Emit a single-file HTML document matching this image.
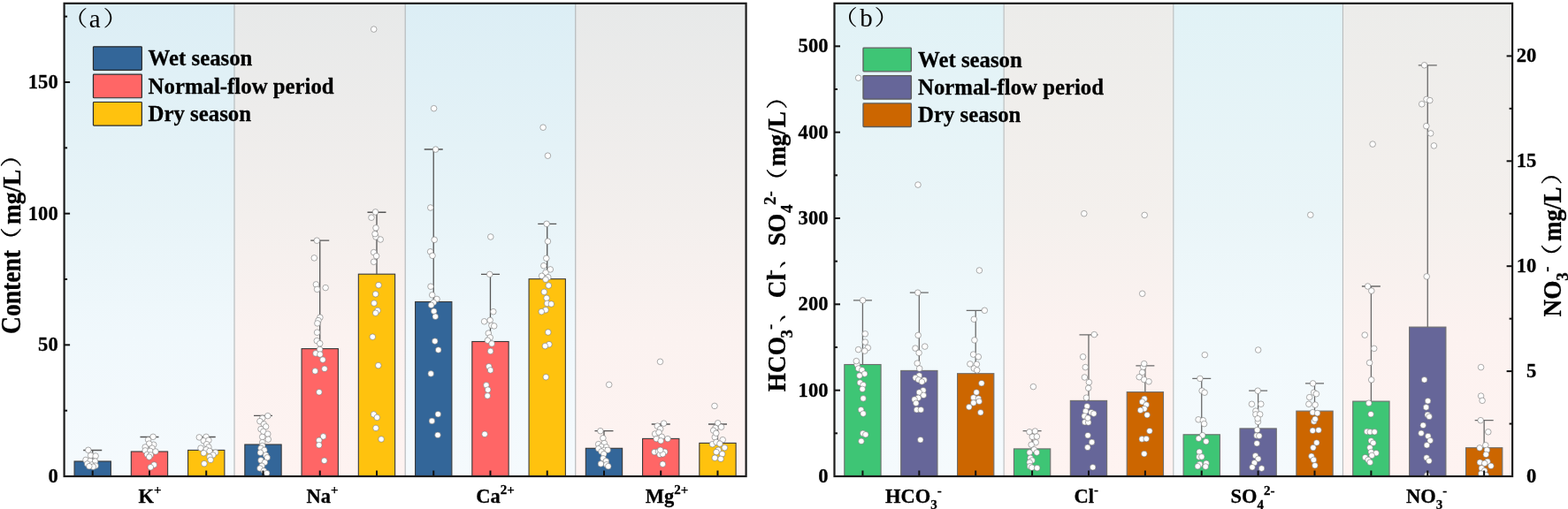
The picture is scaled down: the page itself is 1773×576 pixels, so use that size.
<!DOCTYPE html>
<html lang="en"><head><meta charset="utf-8"><title>Ion content by season</title>
<style>
html,body{margin:0;padding:0;background:#fff;}
body{width:1773px;height:576px;overflow:hidden;}
svg{display:block;}
text{font-family:"Liberation Serif","Noto Serif CJK SC",serif;fill:#000;}
.b{font-weight:bold;stroke:#000;stroke-width:0.28;stroke-linejoin:round;}
.cjk{font-family:"Liberation Serif","Noto Serif CJK SC",serif;font-weight:normal;}
.cjkb{font-family:"Liberation Serif","Noto Serif CJK SC",serif;font-weight:bold;}
.pt{fill:#fff;stroke:#747474;stroke-width:0.6;}
.eb{stroke-width:1.3;fill:none;}
.bar{stroke-width:1.1;}
.ax{stroke:#1c1c1c;stroke-width:2.2;fill:none;}
.tk{stroke:#111;stroke-width:2;fill:none;}
.xtk{stroke:#111;stroke-width:2;fill:none;}
.lg{stroke:#2a2a2a;stroke-width:1;}
.sep{stroke-width:1.1;}
</style></head><body>
<svg width="1773" height="576" viewBox="0 0 1773 576">
<defs>
<linearGradient id="gba" x1="0" y1="0" x2="0" y2="1"><stop offset="0" stop-color="rgb(220,238,245)"/><stop offset="0.45" stop-color="rgb(232,244,248)"/><stop offset="0.7" stop-color="rgb(240,248,252)"/><stop offset="1" stop-color="rgb(245,250,253)"/></linearGradient>
<linearGradient id="gga" x1="0" y1="0" x2="0" y2="1"><stop offset="0" stop-color="rgb(231,233,233)"/><stop offset="0.45" stop-color="rgb(243,239,237)"/><stop offset="0.7" stop-color="rgb(251,242,240)"/><stop offset="1" stop-color="rgb(254,243,241)"/></linearGradient>
<linearGradient id="gbb" x1="0" y1="0" x2="0" y2="1"><stop offset="0" stop-color="rgb(225,242,246)"/><stop offset="0.45" stop-color="rgb(234,245,248)"/><stop offset="0.7" stop-color="rgb(241,249,252)"/><stop offset="1" stop-color="rgb(245,250,253)"/></linearGradient>
<linearGradient id="ggb" x1="0" y1="0" x2="0" y2="1"><stop offset="0" stop-color="rgb(236,236,234)"/><stop offset="0.45" stop-color="rgb(244,240,237)"/><stop offset="0.7" stop-color="rgb(252,242,240)"/><stop offset="1" stop-color="rgb(254,243,241)"/></linearGradient>
<clipPath id="ca"><rect x="72.6" y="3.8" width="771.0" height="535.5"/></clipPath>
<clipPath id="cb"><rect x="943.5" y="3.8" width="766.5999999999999" height="535.5"/></clipPath>
</defs>
<rect x="0" y="0" width="1773" height="576" fill="#fff"/>
<rect x="72.60" y="3.8" width="192.75" height="535.20" fill="url(#gba)"/>
<rect x="265.35" y="3.8" width="192.75" height="535.20" fill="url(#gga)"/>
<rect x="458.10" y="3.8" width="192.75" height="535.20" fill="url(#gba)"/>
<rect x="650.85" y="3.8" width="192.75" height="535.20" fill="url(#gga)"/>
<line class="sep" x1="265.00" y1="3.8" x2="265.00" y2="539.0" stroke="#b2b6b7"/>
<line class="sep" x1="458.20" y1="3.8" x2="458.20" y2="539.0" stroke="#b2b6b7"/>
<line class="sep" x1="650.75" y1="3.8" x2="650.75" y2="539.0" stroke="#b2b6b7"/>
<rect class="bar" x="84.07" y="522.00" width="41.30" height="17.00" fill="#336699" stroke="#383838"/>
<rect class="bar" x="148.32" y="511.00" width="41.30" height="28.00" fill="#FF6666" stroke="#383838"/>
<rect class="bar" x="212.57" y="509.40" width="41.30" height="29.60" fill="#FFC20E" stroke="#383838"/>
<rect class="bar" x="276.83" y="503.00" width="41.30" height="36.00" fill="#336699" stroke="#383838"/>
<rect class="bar" x="341.08" y="394.60" width="41.30" height="144.40" fill="#FF6666" stroke="#383838"/>
<rect class="bar" x="405.33" y="310.20" width="41.30" height="228.80" fill="#FFC20E" stroke="#383838"/>
<rect class="bar" x="469.58" y="341.50" width="41.30" height="197.50" fill="#336699" stroke="#383838"/>
<rect class="bar" x="533.83" y="386.50" width="41.30" height="152.50" fill="#FF6666" stroke="#383838"/>
<rect class="bar" x="598.08" y="315.70" width="41.30" height="223.30" fill="#FFC20E" stroke="#383838"/>
<rect class="bar" x="662.33" y="507.30" width="41.30" height="31.70" fill="#336699" stroke="#383838"/>
<rect class="bar" x="726.58" y="496.40" width="41.30" height="42.60" fill="#FF6666" stroke="#383838"/>
<rect class="bar" x="790.83" y="501.40" width="41.30" height="37.60" fill="#FFC20E" stroke="#383838"/>
<path class="eb" d="M104.72 522.00V509.50M94.22 509.50H115.22" stroke="#555"/>
<path class="eb" d="M168.97 511.00V494.50M158.47 494.50H179.47" stroke="#555"/>
<path class="eb" d="M233.22 509.40V494.50M222.72 494.50H243.72" stroke="#555"/>
<path class="eb" d="M297.48 503.00V470.40M286.98 470.40H307.98" stroke="#555"/>
<path class="eb" d="M361.73 394.60V272.10M351.23 272.10H372.23" stroke="#555"/>
<path class="eb" d="M425.98 310.20V240.25M415.48 240.25H436.48" stroke="#555"/>
<path class="eb" d="M490.23 341.50V169.00M479.73 169.00H500.73" stroke="#555"/>
<path class="eb" d="M554.48 386.50V310.40M543.98 310.40H564.98" stroke="#555"/>
<path class="eb" d="M618.73 315.70V253.30M608.23 253.30H629.23" stroke="#555"/>
<path class="eb" d="M682.98 507.30V487.60M672.48 487.60H693.48" stroke="#555"/>
<path class="eb" d="M747.23 496.40V480.00M736.73 480.00H757.73" stroke="#555"/>
<path class="eb" d="M811.48 501.40V480.00M800.98 480.00H821.98" stroke="#555"/>
<g clip-path="url(#ca)">
<circle class="pt" cx="99.8" cy="509.3" r="3.3"/>
<circle class="pt" cx="102.6" cy="515.4" r="3.3"/>
<circle class="pt" cx="108.1" cy="516.0" r="3.3"/>
<circle class="pt" cx="97.0" cy="520.4" r="3.3"/>
<circle class="pt" cx="102.0" cy="521.6" r="3.3"/>
<circle class="pt" cx="107.6" cy="522.1" r="3.3"/>
<circle class="pt" cx="98.7" cy="524.9" r="3.3"/>
<circle class="pt" cx="103.7" cy="526.0" r="3.3"/>
<circle class="pt" cx="108.1" cy="527.1" r="3.3"/>
<circle class="pt" cx="105.3" cy="528.2" r="3.3"/>
<circle class="pt" cx="100.9" cy="527.7" r="3.3"/>
<circle class="pt" cx="173.1" cy="494.3" r="3.3"/>
<circle class="pt" cx="167.6" cy="497.7" r="3.3"/>
<circle class="pt" cx="173.7" cy="503.2" r="3.3"/>
<circle class="pt" cx="168.7" cy="502.1" r="3.3"/>
<circle class="pt" cx="164.2" cy="506.0" r="3.3"/>
<circle class="pt" cx="172.0" cy="507.1" r="3.3"/>
<circle class="pt" cx="164.2" cy="509.9" r="3.3"/>
<circle class="pt" cx="169.8" cy="510.4" r="3.3"/>
<circle class="pt" cx="175.9" cy="511.0" r="3.3"/>
<circle class="pt" cx="166.4" cy="514.3" r="3.3"/>
<circle class="pt" cx="170.3" cy="514.9" r="3.3"/>
<circle class="pt" cx="168.7" cy="517.1" r="3.3"/>
<circle class="pt" cx="174.2" cy="526.0" r="3.3"/>
<circle class="pt" cx="170.3" cy="528.8" r="3.3"/>
<circle class="pt" cx="225.3" cy="494.9" r="3.3"/>
<circle class="pt" cx="233.1" cy="494.3" r="3.3"/>
<circle class="pt" cx="230.3" cy="498.8" r="3.3"/>
<circle class="pt" cx="235.9" cy="498.2" r="3.3"/>
<circle class="pt" cx="233.7" cy="502.7" r="3.3"/>
<circle class="pt" cx="227.0" cy="507.1" r="3.3"/>
<circle class="pt" cx="235.9" cy="506.0" r="3.3"/>
<circle class="pt" cx="233.1" cy="508.8" r="3.3"/>
<circle class="pt" cx="237.0" cy="510.4" r="3.3"/>
<circle class="pt" cx="230.3" cy="512.7" r="3.3"/>
<circle class="pt" cx="243.7" cy="512.1" r="3.3"/>
<circle class="pt" cx="240.9" cy="514.9" r="3.3"/>
<circle class="pt" cx="237.0" cy="517.1" r="3.3"/>
<circle class="pt" cx="238.1" cy="520.4" r="3.3"/>
<circle class="pt" cx="230.9" cy="524.7" r="3.3"/>
<circle class="pt" cx="302.8" cy="470.6" r="3.3"/>
<circle class="pt" cx="296.7" cy="473.3" r="3.3"/>
<circle class="pt" cx="293.9" cy="476.7" r="3.3"/>
<circle class="pt" cx="298.3" cy="480.0" r="3.3"/>
<circle class="pt" cx="300.6" cy="482.8" r="3.3"/>
<circle class="pt" cx="295.0" cy="485.6" r="3.3"/>
<circle class="pt" cx="297.8" cy="488.3" r="3.3"/>
<circle class="pt" cx="302.8" cy="491.1" r="3.3"/>
<circle class="pt" cx="296.7" cy="494.4" r="3.3"/>
<circle class="pt" cx="303.3" cy="497.2" r="3.3"/>
<circle class="pt" cx="296.7" cy="500.6" r="3.3"/>
<circle class="pt" cx="296.7" cy="504.4" r="3.3"/>
<circle class="pt" cx="295.0" cy="507.2" r="3.3"/>
<circle class="pt" cx="298.9" cy="509.4" r="3.3"/>
<circle class="pt" cx="294.4" cy="512.2" r="3.3"/>
<circle class="pt" cx="300.6" cy="515.0" r="3.3"/>
<circle class="pt" cx="302.2" cy="517.8" r="3.3"/>
<circle class="pt" cx="295.0" cy="520.9" r="3.3"/>
<circle class="pt" cx="299.4" cy="523.3" r="3.3"/>
<circle class="pt" cx="365.6" cy="493.9" r="3.3"/>
<circle class="pt" cx="360.8" cy="498.3" r="3.3"/>
<circle class="pt" cx="360.8" cy="503.7" r="3.3"/>
<circle class="pt" cx="366.7" cy="521.3" r="3.3"/>
<circle class="pt" cx="422.6" cy="468.9" r="3.3"/>
<circle class="pt" cx="426.3" cy="472.4" r="3.3"/>
<circle class="pt" cx="425.0" cy="484.4" r="3.3"/>
<circle class="pt" cx="431.1" cy="497.0" r="3.3"/>
<circle class="pt" cx="361.6" cy="395.4" r="3.3"/>
<circle class="pt" cx="357.0" cy="399.9" r="3.3"/>
<circle class="pt" cx="361.9" cy="401.0" r="3.3"/>
<circle class="pt" cx="365.0" cy="407.1" r="3.3"/>
<circle class="pt" cx="367.0" cy="417.3" r="3.3"/>
<circle class="pt" cx="356.3" cy="419.9" r="3.3"/>
<circle class="pt" cx="360.9" cy="443.8" r="3.3"/>
<circle class="pt" cx="427.8" cy="413.6" r="3.3"/>
<circle class="pt" cx="361.9" cy="359.2" r="3.3"/>
<circle class="pt" cx="360.0" cy="362.6" r="3.3"/>
<circle class="pt" cx="358.9" cy="365.9" r="3.3"/>
<circle class="pt" cx="358.6" cy="376.2" r="3.3"/>
<circle class="pt" cx="358.3" cy="385.6" r="3.3"/>
<circle class="pt" cx="361.7" cy="388.7" r="3.3"/>
<circle class="pt" cx="424.7" cy="332.8" r="3.3"/>
<circle class="pt" cx="423.0" cy="343.1" r="3.3"/>
<circle class="pt" cx="427.0" cy="351.4" r="3.3"/>
<circle class="pt" cx="424.7" cy="354.2" r="3.3"/>
<circle class="pt" cx="421.3" cy="381.2" r="3.3"/>
<circle class="pt" cx="358.3" cy="272.2" r="3.3"/>
<circle class="pt" cx="355.3" cy="291.9" r="3.3"/>
<circle class="pt" cx="357.4" cy="321.9" r="3.3"/>
<circle class="pt" cx="368.1" cy="325.6" r="3.3"/>
<circle class="pt" cx="358.6" cy="327.4" r="3.3"/>
<circle class="pt" cx="425.0" cy="268.0" r="3.3"/>
<circle class="pt" cx="430.2" cy="271.0" r="3.3"/>
<circle class="pt" cx="422.6" cy="285.6" r="3.3"/>
<circle class="pt" cx="425.6" cy="289.7" r="3.3"/>
<circle class="pt" cx="422.6" cy="296.3" r="3.3"/>
<circle class="pt" cx="428.1" cy="322.7" r="3.3"/>
<circle class="pt" cx="424.5" cy="239.9" r="3.3"/>
<circle class="pt" cx="420.0" cy="246.2" r="3.3"/>
<circle class="pt" cx="425.0" cy="257.9" r="3.3"/>
<circle class="pt" cx="424.0" cy="264.7" r="3.3"/>
<circle class="pt" cx="422.7" cy="33.1" r="3.3"/>
<circle class="pt" cx="296.1" cy="527.2" r="3.3"/>
<circle class="pt" cx="293.9" cy="530.0" r="3.3"/>
<circle class="pt" cx="298.3" cy="532.8" r="3.3"/>
<circle class="pt" cx="301.7" cy="535.6" r="3.3"/>
<circle class="pt" cx="488.4" cy="476.4" r="3.3"/>
<circle class="pt" cx="495.0" cy="492.3" r="3.3"/>
<circle class="pt" cx="548.1" cy="491.3" r="3.3"/>
<circle class="pt" cx="487.2" cy="422.9" r="3.3"/>
<circle class="pt" cx="495.3" cy="468.7" r="3.3"/>
<circle class="pt" cx="552.8" cy="414.8" r="3.3"/>
<circle class="pt" cx="554.6" cy="418.9" r="3.3"/>
<circle class="pt" cx="549.9" cy="435.9" r="3.3"/>
<circle class="pt" cx="551.7" cy="441.1" r="3.3"/>
<circle class="pt" cx="551.2" cy="447.9" r="3.3"/>
<circle class="pt" cx="617.3" cy="426.7" r="3.3"/>
<circle class="pt" cx="490.7" cy="352.2" r="3.3"/>
<circle class="pt" cx="492.3" cy="358.2" r="3.3"/>
<circle class="pt" cx="491.8" cy="386.1" r="3.3"/>
<circle class="pt" cx="495.7" cy="396.0" r="3.3"/>
<circle class="pt" cx="557.8" cy="352.7" r="3.3"/>
<circle class="pt" cx="547.6" cy="363.8" r="3.3"/>
<circle class="pt" cx="554.2" cy="362.4" r="3.3"/>
<circle class="pt" cx="555.9" cy="368.2" r="3.3"/>
<circle class="pt" cx="558.7" cy="368.9" r="3.3"/>
<circle class="pt" cx="552.3" cy="377.1" r="3.3"/>
<circle class="pt" cx="554.2" cy="381.9" r="3.3"/>
<circle class="pt" cx="551.4" cy="385.2" r="3.3"/>
<circle class="pt" cx="556.1" cy="388.9" r="3.3"/>
<circle class="pt" cx="554.6" cy="397.4" r="3.3"/>
<circle class="pt" cx="617.0" cy="350.8" r="3.3"/>
<circle class="pt" cx="612.3" cy="352.7" r="3.3"/>
<circle class="pt" cx="619.8" cy="376.0" r="3.3"/>
<circle class="pt" cx="620.9" cy="389.7" r="3.3"/>
<circle class="pt" cx="616.4" cy="391.6" r="3.3"/>
<circle class="pt" cx="486.6" cy="284.8" r="3.3"/>
<circle class="pt" cx="489.0" cy="289.3" r="3.3"/>
<circle class="pt" cx="487.0" cy="324.2" r="3.3"/>
<circle class="pt" cx="488.7" cy="333.8" r="3.3"/>
<circle class="pt" cx="494.0" cy="338.4" r="3.3"/>
<circle class="pt" cx="490.3" cy="342.3" r="3.3"/>
<circle class="pt" cx="487.6" cy="345.3" r="3.3"/>
<circle class="pt" cx="553.7" cy="310.4" r="3.3"/>
<circle class="pt" cx="617.8" cy="292.3" r="3.3"/>
<circle class="pt" cx="614.8" cy="300.7" r="3.3"/>
<circle class="pt" cx="622.3" cy="304.9" r="3.3"/>
<circle class="pt" cx="617.0" cy="308.4" r="3.3"/>
<circle class="pt" cx="612.6" cy="312.3" r="3.3"/>
<circle class="pt" cx="619.8" cy="313.8" r="3.3"/>
<circle class="pt" cx="617.0" cy="316.2" r="3.3"/>
<circle class="pt" cx="620.3" cy="323.1" r="3.3"/>
<circle class="pt" cx="615.3" cy="330.4" r="3.3"/>
<circle class="pt" cx="618.1" cy="337.3" r="3.3"/>
<circle class="pt" cx="618.7" cy="343.4" r="3.3"/>
<circle class="pt" cx="623.3" cy="344.0" r="3.3"/>
<circle class="pt" cx="486.8" cy="235.0" r="3.3"/>
<circle class="pt" cx="491.2" cy="271.3" r="3.3"/>
<circle class="pt" cx="554.8" cy="268.0" r="3.3"/>
<circle class="pt" cx="618.1" cy="253.3" r="3.3"/>
<circle class="pt" cx="619.4" cy="273.1" r="3.3"/>
<circle class="pt" cx="490.6" cy="122.7" r="3.3"/>
<circle class="pt" cx="492.6" cy="169.1" r="3.3"/>
<circle class="pt" cx="614.1" cy="144.2" r="3.3"/>
<circle class="pt" cx="619.4" cy="176.2" r="3.3"/>
<circle class="pt" cx="678.9" cy="487.7" r="3.3"/>
<circle class="pt" cx="681.9" cy="495.8" r="3.3"/>
<circle class="pt" cx="676.7" cy="502.7" r="3.3"/>
<circle class="pt" cx="683.3" cy="501.6" r="3.3"/>
<circle class="pt" cx="680.0" cy="505.4" r="3.3"/>
<circle class="pt" cx="685.6" cy="506.0" r="3.3"/>
<circle class="pt" cx="676.7" cy="507.7" r="3.3"/>
<circle class="pt" cx="683.3" cy="509.3" r="3.3"/>
<circle class="pt" cx="687.2" cy="509.3" r="3.3"/>
<circle class="pt" cx="680.0" cy="511.0" r="3.3"/>
<circle class="pt" cx="682.8" cy="513.8" r="3.3"/>
<circle class="pt" cx="682.0" cy="518.8" r="3.3"/>
<circle class="pt" cx="685.3" cy="521.8" r="3.3"/>
<circle class="pt" cx="679.4" cy="524.9" r="3.3"/>
<circle class="pt" cx="685.8" cy="525.8" r="3.3"/>
<circle class="pt" cx="687.8" cy="527.7" r="3.3"/>
<circle class="pt" cx="750.6" cy="479.1" r="3.3"/>
<circle class="pt" cx="743.3" cy="482.1" r="3.3"/>
<circle class="pt" cx="746.7" cy="485.4" r="3.3"/>
<circle class="pt" cx="740.6" cy="491.0" r="3.3"/>
<circle class="pt" cx="745.0" cy="489.3" r="3.3"/>
<circle class="pt" cx="748.3" cy="494.3" r="3.3"/>
<circle class="pt" cx="742.2" cy="496.6" r="3.3"/>
<circle class="pt" cx="755.0" cy="496.6" r="3.3"/>
<circle class="pt" cx="747.2" cy="498.8" r="3.3"/>
<circle class="pt" cx="740.0" cy="511.6" r="3.3"/>
<circle class="pt" cx="744.4" cy="511.0" r="3.3"/>
<circle class="pt" cx="751.7" cy="511.3" r="3.3"/>
<circle class="pt" cx="746.1" cy="514.3" r="3.3"/>
<circle class="pt" cx="749.4" cy="513.8" r="3.3"/>
<circle class="pt" cx="746.7" cy="509.3" r="3.3"/>
<circle class="pt" cx="749.4" cy="525.2" r="3.3"/>
<circle class="pt" cx="811.7" cy="478.8" r="3.3"/>
<circle class="pt" cx="815.6" cy="483.2" r="3.3"/>
<circle class="pt" cx="808.9" cy="484.3" r="3.3"/>
<circle class="pt" cx="806.7" cy="487.1" r="3.3"/>
<circle class="pt" cx="808.3" cy="494.7" r="3.3"/>
<circle class="pt" cx="817.2" cy="497.7" r="3.3"/>
<circle class="pt" cx="805.6" cy="502.7" r="3.3"/>
<circle class="pt" cx="810.0" cy="500.4" r="3.3"/>
<circle class="pt" cx="813.9" cy="502.1" r="3.3"/>
<circle class="pt" cx="819.4" cy="506.6" r="3.3"/>
<circle class="pt" cx="812.2" cy="509.3" r="3.3"/>
<circle class="pt" cx="810.0" cy="511.6" r="3.3"/>
<circle class="pt" cx="816.7" cy="513.8" r="3.3"/>
<circle class="pt" cx="808.3" cy="518.2" r="3.3"/>
<circle class="pt" cx="815.0" cy="519.3" r="3.3"/>
<circle class="pt" cx="688.7" cy="435.3" r="3.3"/>
<circle class="pt" cx="808.0" cy="459.4" r="3.3"/>
<circle class="pt" cx="809.8" cy="490.2" r="3.3"/>
<circle class="pt" cx="746.5" cy="409.3" r="3.3"/>
</g>
<line class="xtk" x1="104.72" y1="539.0" x2="104.72" y2="532.5"/>
<line class="xtk" x1="168.97" y1="539.0" x2="168.97" y2="532.5"/>
<line class="xtk" x1="233.22" y1="539.0" x2="233.22" y2="532.5"/>
<line class="xtk" x1="297.48" y1="539.0" x2="297.48" y2="532.5"/>
<line class="xtk" x1="361.73" y1="539.0" x2="361.73" y2="532.5"/>
<line class="xtk" x1="425.98" y1="539.0" x2="425.98" y2="532.5"/>
<line class="xtk" x1="490.23" y1="539.0" x2="490.23" y2="532.5"/>
<line class="xtk" x1="554.48" y1="539.0" x2="554.48" y2="532.5"/>
<line class="xtk" x1="618.73" y1="539.0" x2="618.73" y2="532.5"/>
<line class="xtk" x1="682.98" y1="539.0" x2="682.98" y2="532.5"/>
<line class="xtk" x1="747.23" y1="539.0" x2="747.23" y2="532.5"/>
<line class="xtk" x1="811.48" y1="539.0" x2="811.48" y2="532.5"/>
<rect class="ax" x="72.6" y="3.8" width="771.0" height="535.2"/>
<rect x="943.50" y="3.8" width="191.65" height="535.20" fill="url(#gbb)"/>
<rect x="1135.15" y="3.8" width="191.65" height="535.20" fill="url(#ggb)"/>
<rect x="1326.80" y="3.8" width="191.65" height="535.20" fill="url(#gbb)"/>
<rect x="1518.45" y="3.8" width="191.65" height="535.20" fill="url(#ggb)"/>
<line class="sep" x1="1135.15" y1="3.8" x2="1135.15" y2="539.0" stroke="#b9bcbd"/>
<line class="sep" x1="1326.80" y1="3.8" x2="1326.80" y2="539.0" stroke="#b9bcbd"/>
<line class="sep" x1="1518.45" y1="3.8" x2="1518.45" y2="539.0" stroke="#b9bcbd"/>
<rect class="bar" x="954.79" y="412.50" width="41.30" height="126.50" fill="#3EC575" stroke="#6e6e6e"/>
<rect class="bar" x="1018.68" y="419.40" width="41.30" height="119.60" fill="#666699" stroke="#6e6e6e"/>
<rect class="bar" x="1082.56" y="422.70" width="41.30" height="116.30" fill="#CC6600" stroke="#6e6e6e"/>
<rect class="bar" x="1146.44" y="507.90" width="41.30" height="31.10" fill="#3EC575" stroke="#6e6e6e"/>
<rect class="bar" x="1210.32" y="453.40" width="41.30" height="85.60" fill="#666699" stroke="#6e6e6e"/>
<rect class="bar" x="1274.21" y="443.60" width="41.30" height="95.40" fill="#CC6600" stroke="#6e6e6e"/>
<rect class="bar" x="1338.09" y="491.80" width="41.30" height="47.20" fill="#3EC575" stroke="#6e6e6e"/>
<rect class="bar" x="1401.97" y="484.90" width="41.30" height="54.10" fill="#666699" stroke="#6e6e6e"/>
<rect class="bar" x="1465.86" y="465.10" width="41.30" height="73.90" fill="#CC6600" stroke="#6e6e6e"/>
<rect class="bar" x="1529.74" y="454.10" width="41.30" height="84.90" fill="#3EC575" stroke="#6e6e6e"/>
<rect class="bar" x="1593.62" y="370.10" width="41.30" height="168.90" fill="#666699" stroke="#6e6e6e"/>
<rect class="bar" x="1657.51" y="506.70" width="41.30" height="32.30" fill="#CC6600" stroke="#6e6e6e"/>
<path class="eb" d="M975.44 412.50V339.90M964.94 339.90H985.94" stroke="#6a6a6a"/>
<path class="eb" d="M1039.33 419.40V331.20M1028.83 331.20H1049.83" stroke="#6a6a6a"/>
<path class="eb" d="M1103.21 422.70V351.30M1092.71 351.30H1113.71" stroke="#6a6a6a"/>
<path class="eb" d="M1167.09 507.90V487.70M1156.59 487.70H1177.59" stroke="#6a6a6a"/>
<path class="eb" d="M1230.97 453.40V378.90M1220.47 378.90H1241.47" stroke="#6a6a6a"/>
<path class="eb" d="M1294.86 443.60V413.90M1284.36 413.90H1305.36" stroke="#6a6a6a"/>
<path class="eb" d="M1358.74 491.80V428.40M1348.24 428.40H1369.24" stroke="#6a6a6a"/>
<path class="eb" d="M1422.62 484.90V442.20M1412.12 442.20H1433.12" stroke="#6a6a6a"/>
<path class="eb" d="M1486.51 465.10V433.90M1476.01 433.90H1497.01" stroke="#6a6a6a"/>
<path class="eb" d="M1550.39 454.10V324.00M1539.89 324.00H1560.89" stroke="#6a6a6a"/>
<path class="eb" d="M1614.27 370.10V73.80M1603.77 73.80H1624.77" stroke="#6a6a6a"/>
<path class="eb" d="M1678.16 506.70V475.60M1667.66 475.60H1688.66" stroke="#6a6a6a"/>
<g clip-path="url(#cb)">
<circle class="pt" cx="975.8" cy="490.4" r="3.3"/>
<circle class="pt" cx="978.8" cy="491.8" r="3.3"/>
<circle class="pt" cx="973.9" cy="499.3" r="3.3"/>
<circle class="pt" cx="1040.8" cy="497.7" r="3.3"/>
<circle class="pt" cx="969.1" cy="412.6" r="3.3"/>
<circle class="pt" cx="970.6" cy="417.0" r="3.3"/>
<circle class="pt" cx="974.7" cy="418.7" r="3.3"/>
<circle class="pt" cx="977.7" cy="423.1" r="3.3"/>
<circle class="pt" cx="971.9" cy="425.1" r="3.3"/>
<circle class="pt" cx="972.4" cy="433.1" r="3.3"/>
<circle class="pt" cx="976.1" cy="435.6" r="3.3"/>
<circle class="pt" cx="975.2" cy="440.3" r="3.3"/>
<circle class="pt" cx="976.1" cy="450.9" r="3.3"/>
<circle class="pt" cx="973.6" cy="463.7" r="3.3"/>
<circle class="pt" cx="976.1" cy="468.1" r="3.3"/>
<circle class="pt" cx="1037.2" cy="411.1" r="3.3"/>
<circle class="pt" cx="1039.7" cy="417.0" r="3.3"/>
<circle class="pt" cx="1039.4" cy="425.1" r="3.3"/>
<circle class="pt" cx="1035.2" cy="427.6" r="3.3"/>
<circle class="pt" cx="1038.6" cy="429.8" r="3.3"/>
<circle class="pt" cx="1045.0" cy="430.0" r="3.3"/>
<circle class="pt" cx="1042.4" cy="432.0" r="3.3"/>
<circle class="pt" cx="1043.9" cy="441.8" r="3.3"/>
<circle class="pt" cx="1039.4" cy="444.0" r="3.3"/>
<circle class="pt" cx="1044.3" cy="447.3" r="3.3"/>
<circle class="pt" cx="1038.3" cy="450.3" r="3.3"/>
<circle class="pt" cx="1034.1" cy="452.0" r="3.3"/>
<circle class="pt" cx="1035.8" cy="456.2" r="3.3"/>
<circle class="pt" cx="1036.6" cy="463.7" r="3.3"/>
<circle class="pt" cx="1041.3" cy="463.7" r="3.3"/>
<circle class="pt" cx="1096.9" cy="411.9" r="3.3"/>
<circle class="pt" cx="1104.4" cy="412.2" r="3.3"/>
<circle class="pt" cx="1101.3" cy="417.0" r="3.3"/>
<circle class="pt" cx="1104.7" cy="418.9" r="3.3"/>
<circle class="pt" cx="1109.9" cy="433.7" r="3.3"/>
<circle class="pt" cx="1104.1" cy="444.0" r="3.3"/>
<circle class="pt" cx="1100.8" cy="450.0" r="3.3"/>
<circle class="pt" cx="1106.3" cy="451.1" r="3.3"/>
<circle class="pt" cx="1107.2" cy="454.2" r="3.3"/>
<circle class="pt" cx="1100.8" cy="455.9" r="3.3"/>
<circle class="pt" cx="1095.8" cy="460.6" r="3.3"/>
<circle class="pt" cx="1108.8" cy="466.8" r="3.3"/>
<circle class="pt" cx="978.3" cy="377.8" r="3.3"/>
<circle class="pt" cx="978.3" cy="387.1" r="3.3"/>
<circle class="pt" cx="981.3" cy="393.6" r="3.3"/>
<circle class="pt" cx="970.6" cy="395.6" r="3.3"/>
<circle class="pt" cx="977.8" cy="397.1" r="3.3"/>
<circle class="pt" cx="968.3" cy="408.6" r="3.3"/>
<circle class="pt" cx="1038.2" cy="379.4" r="3.3"/>
<circle class="pt" cx="1045.8" cy="392.1" r="3.3"/>
<circle class="pt" cx="1035.0" cy="394.1" r="3.3"/>
<circle class="pt" cx="1039.1" cy="399.3" r="3.3"/>
<circle class="pt" cx="1113.3" cy="351.3" r="3.3"/>
<circle class="pt" cx="1101.3" cy="361.3" r="3.3"/>
<circle class="pt" cx="1101.9" cy="384.9" r="3.3"/>
<circle class="pt" cx="1100.6" cy="401.1" r="3.3"/>
<circle class="pt" cx="1106.3" cy="403.8" r="3.3"/>
<circle class="pt" cx="975.6" cy="339.9" r="3.3"/>
<circle class="pt" cx="1037.8" cy="331.2" r="3.3"/>
<circle class="pt" cx="1107.4" cy="306.0" r="3.3"/>
<circle class="pt" cx="970.6" cy="88.2" r="3.3"/>
<circle class="pt" cx="1038.0" cy="209.1" r="3.3"/>
<circle class="pt" cx="1164.0" cy="488.8" r="3.3"/>
<circle class="pt" cx="1170.4" cy="488.0" r="3.3"/>
<circle class="pt" cx="1167.3" cy="494.3" r="3.3"/>
<circle class="pt" cx="1172.3" cy="494.0" r="3.3"/>
<circle class="pt" cx="1171.2" cy="500.7" r="3.3"/>
<circle class="pt" cx="1166.2" cy="503.2" r="3.3"/>
<circle class="pt" cx="1169.3" cy="508.8" r="3.3"/>
<circle class="pt" cx="1164.2" cy="512.1" r="3.3"/>
<circle class="pt" cx="1172.3" cy="512.1" r="3.3"/>
<circle class="pt" cx="1165.1" cy="518.2" r="3.3"/>
<circle class="pt" cx="1167.1" cy="521.0" r="3.3"/>
<circle class="pt" cx="1164.2" cy="523.2" r="3.3"/>
<circle class="pt" cx="1164.6" cy="527.7" r="3.3"/>
<circle class="pt" cx="1166.8" cy="529.1" r="3.3"/>
<circle class="pt" cx="1172.7" cy="529.6" r="3.3"/>
<circle class="pt" cx="1226.8" cy="477.7" r="3.3"/>
<circle class="pt" cx="1230.7" cy="478.0" r="3.3"/>
<circle class="pt" cx="1230.1" cy="492.7" r="3.3"/>
<circle class="pt" cx="1234.6" cy="500.4" r="3.3"/>
<circle class="pt" cx="1229.8" cy="506.3" r="3.3"/>
<circle class="pt" cx="1235.7" cy="528.8" r="3.3"/>
<circle class="pt" cx="1299.9" cy="487.7" r="3.3"/>
<circle class="pt" cx="1291.2" cy="496.9" r="3.3"/>
<circle class="pt" cx="1296.2" cy="496.6" r="3.3"/>
<circle class="pt" cx="1293.8" cy="513.6" r="3.3"/>
<circle class="pt" cx="1168.4" cy="437.6" r="3.3"/>
<circle class="pt" cx="1227.3" cy="415.6" r="3.3"/>
<circle class="pt" cx="1226.4" cy="427.0" r="3.3"/>
<circle class="pt" cx="1231.4" cy="432.6" r="3.3"/>
<circle class="pt" cx="1230.7" cy="439.2" r="3.3"/>
<circle class="pt" cx="1228.4" cy="450.1" r="3.3"/>
<circle class="pt" cx="1229.2" cy="459.8" r="3.3"/>
<circle class="pt" cx="1227.6" cy="465.3" r="3.3"/>
<circle class="pt" cx="1234.0" cy="466.7" r="3.3"/>
<circle class="pt" cx="1236.8" cy="468.1" r="3.3"/>
<circle class="pt" cx="1226.2" cy="470.9" r="3.3"/>
<circle class="pt" cx="1230.1" cy="473.1" r="3.3"/>
<circle class="pt" cx="1292.7" cy="415.3" r="3.3"/>
<circle class="pt" cx="1291.6" cy="421.4" r="3.3"/>
<circle class="pt" cx="1288.2" cy="426.7" r="3.3"/>
<circle class="pt" cx="1293.7" cy="429.6" r="3.3"/>
<circle class="pt" cx="1299.0" cy="431.8" r="3.3"/>
<circle class="pt" cx="1294.0" cy="451.4" r="3.3"/>
<circle class="pt" cx="1291.6" cy="454.8" r="3.3"/>
<circle class="pt" cx="1296.2" cy="458.1" r="3.3"/>
<circle class="pt" cx="1294.0" cy="462.6" r="3.3"/>
<circle class="pt" cx="1289.6" cy="464.2" r="3.3"/>
<circle class="pt" cx="1297.1" cy="469.6" r="3.3"/>
<circle class="pt" cx="1237.3" cy="378.6" r="3.3"/>
<circle class="pt" cx="1224.6" cy="403.8" r="3.3"/>
<circle class="pt" cx="1293.7" cy="411.6" r="3.3"/>
<circle class="pt" cx="1225.8" cy="241.7" r="3.3"/>
<circle class="pt" cx="1294.2" cy="243.4" r="3.3"/>
<circle class="pt" cx="1291.7" cy="332.3" r="3.3"/>
<circle class="pt" cx="1355.1" cy="474.8" r="3.3"/>
<circle class="pt" cx="1360.3" cy="475.7" r="3.3"/>
<circle class="pt" cx="1361.6" cy="479.6" r="3.3"/>
<circle class="pt" cx="1359.7" cy="492.7" r="3.3"/>
<circle class="pt" cx="1355.4" cy="496.2" r="3.3"/>
<circle class="pt" cx="1363.8" cy="499.6" r="3.3"/>
<circle class="pt" cx="1356.2" cy="511.3" r="3.3"/>
<circle class="pt" cx="1355.8" cy="517.1" r="3.3"/>
<circle class="pt" cx="1358.8" cy="516.9" r="3.3"/>
<circle class="pt" cx="1356.6" cy="525.4" r="3.3"/>
<circle class="pt" cx="1364.0" cy="524.3" r="3.3"/>
<circle class="pt" cx="1354.3" cy="527.7" r="3.3"/>
<circle class="pt" cx="1363.2" cy="528.0" r="3.3"/>
<circle class="pt" cx="1422.4" cy="477.3" r="3.3"/>
<circle class="pt" cx="1421.6" cy="486.6" r="3.3"/>
<circle class="pt" cx="1421.0" cy="492.9" r="3.3"/>
<circle class="pt" cx="1423.8" cy="493.2" r="3.3"/>
<circle class="pt" cx="1421.2" cy="501.8" r="3.3"/>
<circle class="pt" cx="1419.6" cy="515.8" r="3.3"/>
<circle class="pt" cx="1422.7" cy="519.3" r="3.3"/>
<circle class="pt" cx="1418.4" cy="523.8" r="3.3"/>
<circle class="pt" cx="1416.0" cy="528.8" r="3.3"/>
<circle class="pt" cx="1426.6" cy="530.1" r="3.3"/>
<circle class="pt" cx="1485.7" cy="476.9" r="3.3"/>
<circle class="pt" cx="1484.3" cy="487.3" r="3.3"/>
<circle class="pt" cx="1491.0" cy="486.8" r="3.3"/>
<circle class="pt" cx="1488.8" cy="501.0" r="3.3"/>
<circle class="pt" cx="1484.9" cy="506.6" r="3.3"/>
<circle class="pt" cx="1482.9" cy="516.2" r="3.3"/>
<circle class="pt" cx="1485.4" cy="520.4" r="3.3"/>
<circle class="pt" cx="1486.9" cy="526.8" r="3.3"/>
<circle class="pt" cx="1356.9" cy="428.4" r="3.3"/>
<circle class="pt" cx="1359.1" cy="442.2" r="3.3"/>
<circle class="pt" cx="1362.1" cy="444.2" r="3.3"/>
<circle class="pt" cx="1422.2" cy="442.2" r="3.3"/>
<circle class="pt" cx="1415.4" cy="457.3" r="3.3"/>
<circle class="pt" cx="1425.8" cy="457.2" r="3.3"/>
<circle class="pt" cx="1419.9" cy="465.1" r="3.3"/>
<circle class="pt" cx="1419.9" cy="468.9" r="3.3"/>
<circle class="pt" cx="1424.7" cy="468.9" r="3.3"/>
<circle class="pt" cx="1422.1" cy="473.7" r="3.3"/>
<circle class="pt" cx="1484.6" cy="433.9" r="3.3"/>
<circle class="pt" cx="1485.7" cy="444.2" r="3.3"/>
<circle class="pt" cx="1488.4" cy="445.7" r="3.3"/>
<circle class="pt" cx="1480.7" cy="449.6" r="3.3"/>
<circle class="pt" cx="1479.9" cy="457.3" r="3.3"/>
<circle class="pt" cx="1487.1" cy="458.1" r="3.3"/>
<circle class="pt" cx="1484.3" cy="466.7" r="3.3"/>
<circle class="pt" cx="1489.6" cy="467.6" r="3.3"/>
<circle class="pt" cx="1487.1" cy="474.2" r="3.3"/>
<circle class="pt" cx="1362.3" cy="401.6" r="3.3"/>
<circle class="pt" cx="1422.7" cy="396.0" r="3.3"/>
<circle class="pt" cx="1481.8" cy="243.2" r="3.3"/>
<circle class="pt" cx="1545.7" cy="488.4" r="3.3"/>
<circle class="pt" cx="1549.2" cy="488.8" r="3.3"/>
<circle class="pt" cx="1554.2" cy="488.8" r="3.3"/>
<circle class="pt" cx="1550.3" cy="498.8" r="3.3"/>
<circle class="pt" cx="1552.8" cy="501.3" r="3.3"/>
<circle class="pt" cx="1549.0" cy="506.6" r="3.3"/>
<circle class="pt" cx="1550.3" cy="511.6" r="3.3"/>
<circle class="pt" cx="1556.1" cy="512.7" r="3.3"/>
<circle class="pt" cx="1551.2" cy="515.4" r="3.3"/>
<circle class="pt" cx="1543.7" cy="517.7" r="3.3"/>
<circle class="pt" cx="1547.0" cy="520.4" r="3.3"/>
<circle class="pt" cx="1549.2" cy="523.2" r="3.3"/>
<circle class="pt" cx="1609.2" cy="481.3" r="3.3"/>
<circle class="pt" cx="1607.0" cy="490.2" r="3.3"/>
<circle class="pt" cx="1614.8" cy="493.6" r="3.3"/>
<circle class="pt" cx="1617.2" cy="498.6" r="3.3"/>
<circle class="pt" cx="1613.4" cy="503.8" r="3.3"/>
<circle class="pt" cx="1613.1" cy="518.0" r="3.3"/>
<circle class="pt" cx="1615.9" cy="521.6" r="3.3"/>
<circle class="pt" cx="1613.7" cy="537.7" r="3.3"/>
<circle class="pt" cx="1674.2" cy="475.7" r="3.3"/>
<circle class="pt" cx="1682.8" cy="488.8" r="3.3"/>
<circle class="pt" cx="1679.8" cy="503.8" r="3.3"/>
<circle class="pt" cx="1673.1" cy="506.9" r="3.3"/>
<circle class="pt" cx="1681.4" cy="509.3" r="3.3"/>
<circle class="pt" cx="1680.3" cy="514.3" r="3.3"/>
<circle class="pt" cx="1673.4" cy="523.2" r="3.3"/>
<circle class="pt" cx="1682.0" cy="522.4" r="3.3"/>
<circle class="pt" cx="1678.7" cy="524.3" r="3.3"/>
<circle class="pt" cx="1685.9" cy="527.3" r="3.3"/>
<circle class="pt" cx="1675.3" cy="529.9" r="3.3"/>
<circle class="pt" cx="1678.7" cy="532.7" r="3.3"/>
<circle class="pt" cx="1674.8" cy="536.0" r="3.3"/>
<circle class="pt" cx="1680.3" cy="537.7" r="3.3"/>
<circle class="pt" cx="1548.6" cy="410.5" r="3.3"/>
<circle class="pt" cx="1550.7" cy="429.8" r="3.3"/>
<circle class="pt" cx="1547.8" cy="456.2" r="3.3"/>
<circle class="pt" cx="1550.1" cy="468.7" r="3.3"/>
<circle class="pt" cx="1610.6" cy="429.8" r="3.3"/>
<circle class="pt" cx="1614.6" cy="453.7" r="3.3"/>
<circle class="pt" cx="1612.6" cy="460.9" r="3.3"/>
<circle class="pt" cx="1614.2" cy="469.4" r="3.3"/>
<circle class="pt" cx="1616.1" cy="471.4" r="3.3"/>
<circle class="pt" cx="1674.6" cy="415.6" r="3.3"/>
<circle class="pt" cx="1674.6" cy="448.1" r="3.3"/>
<circle class="pt" cx="1676.1" cy="453.3" r="3.3"/>
<circle class="pt" cx="1546.6" cy="324.0" r="3.3"/>
<circle class="pt" cx="1550.8" cy="329.1" r="3.3"/>
<circle class="pt" cx="1543.2" cy="379.1" r="3.3"/>
<circle class="pt" cx="1553.7" cy="394.4" r="3.3"/>
<circle class="pt" cx="1613.2" cy="312.9" r="3.3"/>
<circle class="pt" cx="1552.1" cy="163.1" r="3.3"/>
<circle class="pt" cx="1621.4" cy="164.9" r="3.3"/>
<circle class="pt" cx="1610.6" cy="73.8" r="3.3"/>
<circle class="pt" cx="1613.0" cy="112.4" r="3.3"/>
<circle class="pt" cx="1616.8" cy="113.6" r="3.3"/>
<circle class="pt" cx="1607.7" cy="117.8" r="3.3"/>
<circle class="pt" cx="1612.8" cy="142.7" r="3.3"/>
<circle class="pt" cx="1617.7" cy="150.9" r="3.3"/>
</g>
<line class="xtk" x1="975.44" y1="539.0" x2="975.44" y2="532.5"/>
<line class="xtk" x1="1039.33" y1="539.0" x2="1039.33" y2="532.5"/>
<line class="xtk" x1="1103.21" y1="539.0" x2="1103.21" y2="532.5"/>
<line class="xtk" x1="1167.09" y1="539.0" x2="1167.09" y2="532.5"/>
<line class="xtk" x1="1230.97" y1="539.0" x2="1230.97" y2="532.5"/>
<line class="xtk" x1="1294.86" y1="539.0" x2="1294.86" y2="532.5"/>
<line class="xtk" x1="1358.74" y1="539.0" x2="1358.74" y2="532.5"/>
<line class="xtk" x1="1422.62" y1="539.0" x2="1422.62" y2="532.5"/>
<line class="xtk" x1="1486.51" y1="539.0" x2="1486.51" y2="532.5"/>
<line class="xtk" x1="1550.39" y1="539.0" x2="1550.39" y2="532.5"/>
<line class="xtk" x1="1614.27" y1="539.0" x2="1614.27" y2="532.5"/>
<line class="xtk" x1="1678.16" y1="539.0" x2="1678.16" y2="532.5"/>
<rect class="ax" x="943.5" y="3.8" width="766.5999999999999" height="535.2"/>
<text class="b" transform="translate(65.7,546.00) scale(1,1.03)" font-size="22.6" text-anchor="end">0</text>
<line class="tk" x1="72.6" y1="464.67" x2="76.1" y2="464.67"/>
<line class="tk" x1="72.6" y1="390.33" x2="79.1" y2="390.33"/>
<text class="b" transform="translate(65.7,397.33) scale(1,1.03)" font-size="22.6" text-anchor="end">50</text>
<line class="tk" x1="72.6" y1="316.00" x2="76.1" y2="316.00"/>
<line class="tk" x1="72.6" y1="241.67" x2="79.1" y2="241.67"/>
<text class="b" transform="translate(65.7,248.67) scale(1,1.03)" font-size="22.6" text-anchor="end">100</text>
<line class="tk" x1="72.6" y1="167.33" x2="76.1" y2="167.33"/>
<line class="tk" x1="72.6" y1="93.00" x2="79.1" y2="93.00"/>
<text class="b" transform="translate(65.7,100.00) scale(1,1.03)" font-size="22.6" text-anchor="end">150</text>
<line class="tk" x1="72.6" y1="18.67" x2="76.1" y2="18.67"/>
<text class="b" transform="translate(936.5,546.00) scale(1,1.03)" font-size="22.6" text-anchor="end">0</text>
<line class="tk" x1="943.5" y1="490.33" x2="947.0" y2="490.33"/>
<line class="tk" x1="943.5" y1="441.67" x2="950.0" y2="441.67"/>
<text class="b" transform="translate(936.5,448.67) scale(1,1.03)" font-size="22.6" text-anchor="end">100</text>
<line class="tk" x1="943.5" y1="393.00" x2="947.0" y2="393.00"/>
<line class="tk" x1="943.5" y1="344.33" x2="950.0" y2="344.33"/>
<text class="b" transform="translate(936.5,351.33) scale(1,1.03)" font-size="22.6" text-anchor="end">200</text>
<line class="tk" x1="943.5" y1="295.67" x2="947.0" y2="295.67"/>
<line class="tk" x1="943.5" y1="247.00" x2="950.0" y2="247.00"/>
<text class="b" transform="translate(936.5,254.00) scale(1,1.03)" font-size="22.6" text-anchor="end">300</text>
<line class="tk" x1="943.5" y1="198.33" x2="947.0" y2="198.33"/>
<line class="tk" x1="943.5" y1="149.67" x2="950.0" y2="149.67"/>
<text class="b" transform="translate(936.5,156.67) scale(1,1.03)" font-size="22.6" text-anchor="end">400</text>
<line class="tk" x1="943.5" y1="101.00" x2="947.0" y2="101.00"/>
<line class="tk" x1="943.5" y1="52.33" x2="950.0" y2="52.33"/>
<text class="b" transform="translate(936.5,59.33) scale(1,1.03)" font-size="22.6" text-anchor="end">500</text>
<text class="b" transform="translate(1737.4,546.00) scale(1,1.03)" font-size="22.6" text-anchor="end">0</text>
<line class="tk" x1="1710.1" y1="479.55" x2="1706.6" y2="479.55"/>
<line class="tk" x1="1710.1" y1="420.10" x2="1703.6" y2="420.10"/>
<text class="b" transform="translate(1737.4,427.10) scale(1,1.03)" font-size="22.6" text-anchor="end">5</text>
<line class="tk" x1="1710.1" y1="360.65" x2="1706.6" y2="360.65"/>
<line class="tk" x1="1710.1" y1="301.20" x2="1703.6" y2="301.20"/>
<text class="b" transform="translate(1737.4,308.20) scale(1,1.03)" font-size="22.6" text-anchor="end">10</text>
<line class="tk" x1="1710.1" y1="241.75" x2="1706.6" y2="241.75"/>
<line class="tk" x1="1710.1" y1="182.30" x2="1703.6" y2="182.30"/>
<text class="b" transform="translate(1737.4,189.30) scale(1,1.03)" font-size="22.6" text-anchor="end">15</text>
<line class="tk" x1="1710.1" y1="122.85" x2="1706.6" y2="122.85"/>
<line class="tk" x1="1710.1" y1="63.40" x2="1703.6" y2="63.40"/>
<text class="b" transform="translate(1737.4,70.40) scale(1,1.03)" font-size="22.6" text-anchor="end">20</text>
<text class="b" x="156.60" y="569.1" font-size="22.5">K<tspan dy="-10.2" font-size="15">+</tspan></text>
<text class="b" x="346.60" y="569.1" font-size="22.5">Na<tspan dy="-10.2" font-size="15">+</tspan></text>
<text class="b" x="538.20" y="569.1" font-size="22.5">Ca<tspan dy="-10.2" font-size="15">2+</tspan></text>
<text class="b" x="729.80" y="569.1" font-size="22.5">Mg<tspan dy="-10.2" font-size="15">2+</tspan></text>
<text class="b" x="1001.00" y="569.1" font-size="22.5">HCO<tspan dy="7.0" font-size="15">3</tspan><tspan dy="-16.2" font-size="15">-</tspan></text>
<text class="b" x="1214.50" y="569.1" font-size="22.5">Cl<tspan dy="-10.2" font-size="15">-</tspan></text>
<text class="b" x="1391.60" y="569.1" font-size="22.5">SO<tspan dy="7.0" font-size="15">4</tspan><tspan dy="-16.2" font-size="15">2-</tspan></text>
<text class="b" x="1590.00" y="569.1" font-size="22.5">NO<tspan dy="7.0" font-size="15">3</tspan><tspan dy="-16.2" font-size="15">-</tspan></text>
<text class="cjk" transform="translate(71.3,29.3) scale(1.17,1)" font-size="24">（</text>
<text x="100.8" y="31.0" font-size="29">a</text>
<text class="cjk" transform="translate(116.4,29.3) scale(1.17,1)" font-size="24">）</text>
<text class="cjk" transform="translate(941.8,28.1) scale(1.17,1)" font-size="24">（</text>
<text x="972.2" y="29.8" font-size="29">b</text>
<text class="cjk" transform="translate(988.5,28.1) scale(1.17,1)" font-size="24">）</text>
<rect x="105.45" y="52.80" width="54.9" height="26.6" rx="0.8" fill="#336699" stroke="#2a2a2a" stroke-width="1.2"/>
<text class="b" x="167.6" y="74.20" font-size="24.8">Wet season</text>
<rect x="105.45" y="84.15" width="54.9" height="26.6" rx="0.8" fill="#FF6666" stroke="#2a2a2a" stroke-width="1.2"/>
<text class="b" x="167.6" y="105.55" font-size="24.8">Normal-flow period</text>
<rect x="105.45" y="115.50" width="54.9" height="26.6" rx="0.8" fill="#FFC20E" stroke="#2a2a2a" stroke-width="1.2"/>
<text class="b" x="167.6" y="136.90" font-size="24.8">Dry season</text>
<rect x="976.0" y="54.20" width="54.4" height="26.6" rx="0.8" fill="#3EC575" stroke="#5c5c5c" stroke-width="1.3"/>
<text class="b" x="1038.0" y="75.60" font-size="24.8">Wet season</text>
<rect x="976.0" y="85.55" width="54.4" height="26.6" rx="0.8" fill="#666699" stroke="#5c5c5c" stroke-width="1.3"/>
<text class="b" x="1038.0" y="106.95" font-size="24.8">Normal-flow period</text>
<rect x="976.0" y="116.90" width="54.4" height="26.6" rx="0.8" fill="#CC6600" stroke="#5c5c5c" stroke-width="1.3"/>
<text class="b" x="1038.0" y="138.30" font-size="24.8">Dry season</text>
<text class="b" transform="translate(22.80,378.00) rotate(-90) scale(1.0,1.11)" font-size="27.6">Content</text>
<text class="cjk" transform="translate(21.20,285.60) rotate(-90) scale(1.17,1.0)" font-size="24" stroke="#000" stroke-width="0.45">（</text>
<text class="b" transform="translate(22.80,254.00) rotate(-90) scale(1.0,1.11)" font-size="27.3">mg/L</text>
<text class="cjk" transform="translate(21.20,189.25) rotate(-90) scale(1.17,1.0)" font-size="24" stroke="#000" stroke-width="0.45">）</text>
<text class="b" transform="translate(888.40,443.30) rotate(-90) scale(1.0,1.11)" font-size="27.3">HCO</text>
<text class="b" transform="translate(896.00,382.50) rotate(-90)" font-size="19">3</text>
<text class="b" transform="translate(876.80,372.90) rotate(-90)" font-size="19">-</text>
<text class="cjk" transform="translate(886.40,364.50) rotate(-90)" font-size="24" stroke="#000" stroke-width="0.3">、</text>
<text class="b" transform="translate(888.40,337.30) rotate(-90) scale(1.0,1.11)" font-size="27.3">Cl</text>
<text class="b" transform="translate(876.80,311.40) rotate(-90)" font-size="19">-</text>
<text class="cjk" transform="translate(886.40,303.40) rotate(-90)" font-size="24" stroke="#000" stroke-width="0.3">、</text>
<text class="b" transform="translate(888.40,278.20) rotate(-90) scale(1.0,1.11)" font-size="27.3">SO</text>
<text class="b" transform="translate(896.00,241.00) rotate(-90)" font-size="19">4</text>
<text class="b" transform="translate(876.80,232.00) rotate(-90)" font-size="19">2-</text>
<text class="cjk" transform="translate(886.80,218.50) rotate(-90) scale(1.17,1.0)" font-size="24" stroke="#000" stroke-width="0.45">（</text>
<text class="b" transform="translate(888.40,188.30) rotate(-90) scale(1.0,1.11)" font-size="27.3">mg/L</text>
<text class="cjk" transform="translate(886.80,123.40) rotate(-90) scale(1.17,1.0)" font-size="24" stroke="#000" stroke-width="0.45">）</text>
<text class="b" transform="translate(1765.00,358.50) rotate(-90) scale(1.0,1.11)" font-size="27.3">NO</text>
<text class="b" transform="translate(1772.60,317.80) rotate(-90)" font-size="19">3</text>
<text class="b" transform="translate(1754.50,307.80) rotate(-90)" font-size="19">-</text>
<text class="cjk" transform="translate(1763.40,304.20) rotate(-90) scale(1.17,1.0)" font-size="24" stroke="#000" stroke-width="0.45">（</text>
<text class="b" transform="translate(1765.00,272.90) rotate(-90) scale(1.0,1.11)" font-size="26.9">mg/L</text>
<text class="cjk" transform="translate(1763.40,208.90) rotate(-90) scale(1.17,1.0)" font-size="24" stroke="#000" stroke-width="0.45">）</text>
</svg></body></html>
